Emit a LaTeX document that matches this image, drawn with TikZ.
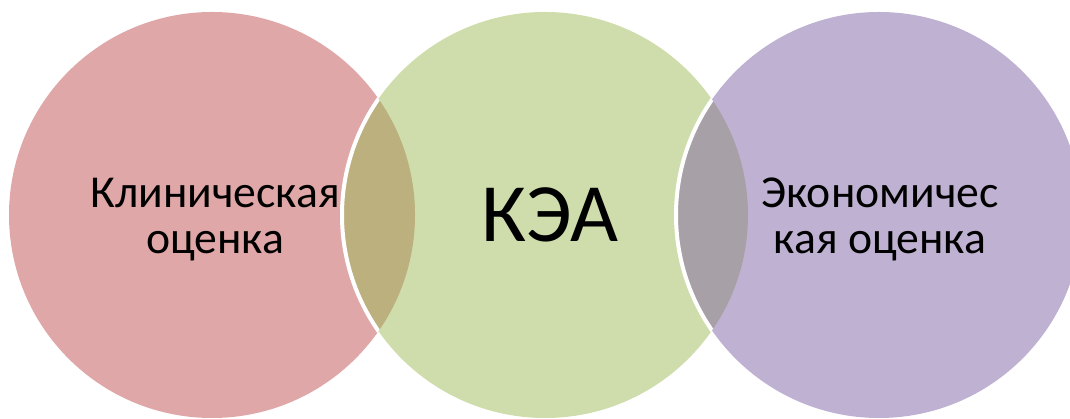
\documentclass[tikz,border=0pt]{standalone}
\usepackage{fontspec}
\setmainfont{Carlito}
\definecolor{klincol}{HTML}{DFA7A7}
\definecolor{keacol}{HTML}{CEDDAB}
\definecolor{econcol}{HTML}{BFB1D1}
\definecolor{klinkeacol}{HTML}{BCB07F}
\definecolor{keaeconcol}{HTML}{A7A1A7}
\tikzset{
  rim/.style={draw=white, line width=1mm},
  lbl/.style={align=center, inner sep=0pt, anchor=base,
    font=\fontsize{32.5pt}{33.4pt}\selectfont},
}
\begin{document}
\begin{tikzpicture}[x=0.25mm,y=0.25mm]
  \useasboundingbox (0,0) rectangle (1070,419);
  \coordinate (klin) at (212,204);
  \coordinate (kea) at (545,204);
  \coordinate (econ) at (879,204);
  % circles
  \fill[klincol] (klin) circle (50.75mm);
  \fill[keacol] (kea) circle (50.75mm);
  \fill[econcol] (econ) circle (50.75mm);
  % overlaps
  \begin{scope}
    \clip (klin) circle (50.75mm);
    \fill[klinkeacol] (kea) circle (50.75mm);
    \draw[rim] (kea) circle (50.75mm);
  \end{scope}
  \begin{scope}
    \clip (kea) circle (50.75mm);
    \fill[keaeconcol] (econ) circle (50.75mm);
    \draw[rim] (econ) circle (50.75mm);
  \end{scope}
  % labels
  \node[lbl] (klintext) at (215,165) {Клиническая\\оценка};
  \node[lbl, font=\fontsize{59pt}{59pt}\selectfont] (keatext) at (550,177) {КЭА};
  \node[lbl] (econtext) at (880,165) {Экономичес\\кая оценка};
\end{tikzpicture}
\end{document}
